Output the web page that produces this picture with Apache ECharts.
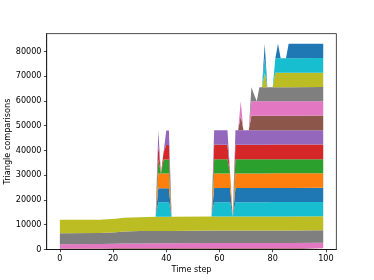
<!DOCTYPE html>
<html><head><meta charset="utf-8">
<script src="https://cdn.jsdelivr.net/npm/echarts@6/dist/echarts.min.js"></script>
<style>html,body{margin:0;padding:0;background:#fff}#c{width:374px;height:280px}</style>
</head><body><div id="c"></div>
<script>
// time steps (breakpoints of the stacked areas)
const timeSteps = [0,15,21,24,30,36,37,38,39,40,41,42,57,58,63,64,65,66,67,68,69,71,72,73,74,75,76,77,78,80,81,82,83,85,86,99];

// layer values, bottom to top
const layerA = [450,450,480,500,500,520, 520,520,520,520,520,520, 530,530,530,530,530,530,530,530,530,530,530,530,530,530,530,530,530,540,540,540,540,540,540,550];
const layerB = [1700,1750,1800,1900,1950,2000, 2000,2000,2000,2000,2000,2000, 2050,2050,2050,2050,2050,2050,2050,2050,2050,2050,2050,2050,2050,2050,2050,2050,2050,2100,2100,2100,2100,2100,2100,2150];
const layerC = [4450,4500,4650,4900,5000,5000, 5000,5000,5000,5000,5000,5000, 5050,5050,5050,5050,5050,5050,5050,5050,5050,5050,5050,5050,5050,5050,5050,5050,5050,5050,5050,5050,5050,5050,5050,5050];
const layerD = [5400,5350,5470,5500,5550,5730, 5730,5730,5730,5730,5730,5730, 5700,5700,5700,5700,5700,5700,5700,5700,5700,5700,5700,5700,5700,5700,5700,5700,5700,5680,5680,5680,5680,5680,5680,5650];
const layerE = [0,0,0,0,0,0, 5800,5800,5800,5800,5800,0, 0,5800,5800,5800,0,5800,5800,5800,5800,5800,5800,5800,5800,5800,5800,5800,5800,5800,5800,5800,5800,5800,5800,5800];
const layerF = [0,0,0,0,0,0, 5700,5700,5700,5700,5700,0, 0,5700,5700,5700,0,5700,5700,5700,5700,5700,5700,5700,5700,5700,5700,5700,5700,5700,5700,5700,5700,5700,5700,5700];
const layerG = [0,0,0,0,0,0, 5900,5900,5900,5900,5900,0, 0,5900,5900,5900,0,5900,5900,5900,5900,5900,5900,5900,5900,5900,5900,5900,5900,5900,5900,5900,5900,5900,5900,5900];
const layerH = [0,0,0,0,0,0, 5700,0,5700,5700,5700,0, 0,5700,5700,0,0,5700,5700,5700,5700,5700,5700,5700,5700,5700,5700,5700,5700,5700,5700,5700,5700,5700,5700,5700];
const layerI = [0,0,0,0,0,0, 5900,0,3000,5900,5900,0, 0,5900,5900,0,0,5900,5900,5900,5900,5900,5900,5900,5900,5900,5900,5900,5900,5900,5900,5900,5900,5900,5900,5900];
const layerJ = [0,0,0,0,0,0, 5800,0,0,5800,5800,0, 0,5800,5800,0,0,5800,5800,5800,5800,5800,5800,5800,5800,5800,5800,5800,5800,5800,5800,5800,5800,5800,5800,5800];
const layerK = [0,0,0,0,0,0, 0,0,0,0,0,0, 0,0,0,0,0,0,0,5900,0,0,5900,5900,5900,5900,5900,5900,5900,5900,5900,5900,5900,5900,5900,5900];
const layerL = [0,0,0,0,0,0, 0,0,0,0,0,0, 0,0,0,0,0,0,0,5800,0,0,5800,5800,5800,5800,5800,5800,5800,5800,5800,5800,5800,5800,5800,5800];
const layerM = [0,0,0,0,0,0, 0,0,0,0,0,0, 0,0,0,0,0,0,0,0,0,0,5700,2800,0,5700,5700,5700,5700,5700,5700,5700,5700,5700,5700,5700];
const layerN = [0,0,0,0,0,0, 0,0,0,0,0,0, 0,0,0,0,0,0,0,0,0,0,0,0,0,0,0,5800,0,0,5800,5800,5800,5800,5800,5800];
const layerO = [0,0,0,0,0,0, 0,0,0,0,0,0, 0,0,0,0,0,0,0,0,0,0,0,0,0,0,0,5900,0,0,5900,5900,5900,5900,5900,5900];
const layerP = [0,0,0,0,0,0, 0,0,0,0,0,0, 0,0,0,0,0,0,0,0,0,0,0,0,0,0,0,5800,0,0,0,5800,0,0,5800,5800];

const layers = [layerA,layerB,layerC,layerD,layerE,layerF,layerG,layerH,layerI,layerJ,layerK,layerL,layerM,layerN,layerO,layerP];
const layerColors = ['#8c564b','#e377c2','#7f7f7f','#bcbd22','#17becf','#1f77b4','#ff7f0e','#2ca02c','#d62728','#9467bd','#8c564b','#e377c2','#7f7f7f','#bcbd22','#17becf','#1f77b4'];

const xTicks = [0,20,40,60,80,100];
const yTicks = [0,10000,20000,30000,40000,50000,60000,70000,80000];

const font = 'DejaVu Sans';
const chart = echarts.init(document.getElementById('c'), null, {renderer:'canvas'});
chart.setOption({
  animation: false,
  grid: {left: 46.7, right: 37.6, top: 33.6, bottom: 30.5, outerBoundsMode: 'none', containLabel: false,
         show: true, borderColor: '#000', borderWidth: 0.7, backgroundColor: 'transparent'},
  xAxis: {
    type: 'value', min: -4.95, max: 103.95, z: 5,
    name: 'Time step', nameLocation: 'middle', nameGap: 16, nameMoveOverlap: false,
    nameTextStyle: {fontFamily: font, fontSize: 8.1, color: '#000'},
    axisLine: {show: true, onZero: false, lineStyle: {color: '#000', width: 0.7}},
    axisTick: {show: true, customValues: xTicks, length: 2.8, lineStyle: {color: '#000', width: 0.7}},
    axisLabel: {customValues: xTicks, margin: 5.2, fontFamily: font, fontSize: 8.1, color: '#000', formatter: v => String(v)},
    splitLine: {show: false}
  },
  yAxis: {
    type: 'value', min: 0, max: 87200, z: 5,
    name: 'Triangle comparisons', nameLocation: 'middle', nameGap: 35, nameMoveOverlap: false,
    nameTextStyle: {fontFamily: font, fontSize: 8.1, color: '#000'},
    axisLine: {show: true, onZero: false, lineStyle: {color: '#000', width: 0.7}},
    axisTick: {show: true, customValues: yTicks, length: 2.8, lineStyle: {color: '#000', width: 0.7}},
    axisLabel: {customValues: yTicks, margin: 5.2, fontFamily: font, fontSize: 8.1, color: '#000', formatter: v => String(v)},
    splitLine: {show: false}
  },
  series: layers.map((vals, i) => ({
    type: 'line', stack: 'total', symbol: 'none', showSymbol: false,
    encode: {x: 1, y: 0},
    lineStyle: {width: 0}, areaStyle: {color: layerColors[i], opacity: 1},
    itemStyle: {color: layerColors[i]},
    data: timeSteps.map((t, k) => [vals[k], t])
  }))
});
</script></body></html>
